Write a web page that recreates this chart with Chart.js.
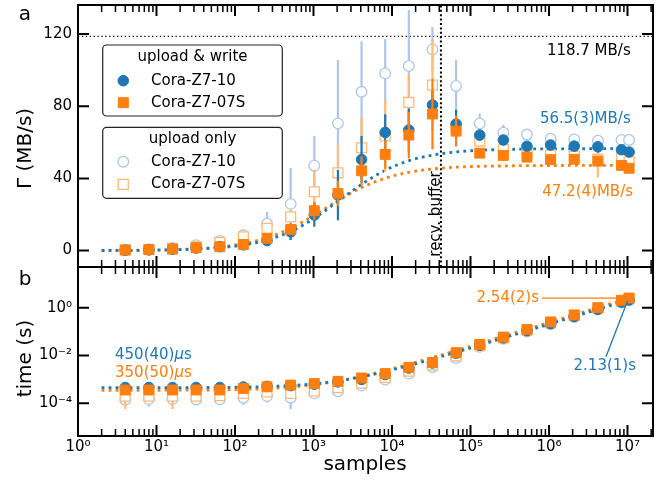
<!DOCTYPE html>
<html>
<head>
<meta charset="utf-8">
<script src="https://cdn.jsdelivr.net/npm/chart.js@4/dist/chart.umd.min.js"></script>
<style>
  html, body { margin: 0; padding: 0; background: #fff; }
  #wrap { position: relative; width: 672px; height: 483px; }
  canvas { position: absolute; left: 0; }
  #rateChart { top: 0; }
  #timeChart { top: 266px; }
</style>
</head>
<body>
<div id="wrap">
  <canvas id="rateChart" width="672" height="268"></canvas>
  <canvas id="timeChart" width="672" height="217"></canvas>
</div>
<script>
// Throughput / transfer time vs number of samples
const c = {
  blue: '#1f77b4',
  orange: '#ff7f0e',
  lblue: '#aec7e8',
  lorange: '#ffbb78'
};
const FONT = "'DejaVu Sans'";
Chart.defaults.font.family = FONT;
Chart.defaults.font.size = 15;
Chart.defaults.color = '#000';

// sample counts of the measurements
const samples = [4, 8, 16, 32, 64, 128, 256, 512, 1024, 2048, 4096, 8192, 16384, 32768,
  65536, 131072, 262144, 524288, 1048576, 2097152, 4194304, 8388608, 10485760];

// panel a: rate (MB/s)
const rateWriteZ10 = [0.2, 0.4, 0.8, 1.4, 2.2, 3.2, 5.6, 10.4, 19.7, 30.8, 50.5, 65.5, 66.8, 80.7, 70.1, 64.0, 61.3, 57.8, 58.5, 57.9, 57.5, 55.9, 54.6];
const errWriteZ10 = [0.1, 0.1, 0.2, 0.3, 0.4, 0.6, 1.0, 4.6, 6.5, 14, 13, 10, 12, 8, 8, 3, 2, 1.5, 1, 1, 1, 1, 1];
const rateWrite07S = [0.3, 0.5, 0.9, 1.6, 2.1, 3.4, 6.8, 11.7, 22.1, 31.7, 44.2, 53.3, 64.0, 75.7, 66.2, 54.0, 52.7, 51.8, 50.4, 50.6, 49.6, 47.2, 45.6];
const errWrite07S = [0.1, 0.1, 0.2, 0.3, 0.4, 0.6, 1.2, 3, 5, 7, 8, 8, 13, 19.5, 8.5, 2, 1.5, 1.5, 1.5, 1.5, 2, 1.5, 1.5];
const rateOnlyZ10 = [0.5, 0.8, 1.4, 3.0, 5.3, 8.5, 14.9, 25.9, 47.0, 70.5, 88.0, 98.2, 102.3, 111.5, 91.2, 70.5, 65.3, 64.3, 62.0, 61.6, 60.9, 61.3, 61.3];
const errOnlyZ10 = [0.3, 0.4, 0.5, 0.8, 1.2, 3.5, 6.6, 19.8, 16.5, 35, 28, 19, 31, 12.4, 14.4, 5.5, 4.4, 1.5, 1.5, 1.5, 1.5, 1.5, 1.5];
const rateOnly07S = [0.4, 0.6, 1.0, 2.0, 4.5, 7.6, 12.3, 18.7, 32.6, 43.1, 57.0, 63.5, 82.1, 91.7, 68.0, 60.7, 56.3, 54.0, 53.0, 52.3, 50.5, 51.3, 49.5];
const errOnly07S = [0.2, 0.3, 0.4, 0.6, 1.0, 1.5, 2.5, 4, 12, 16, 17, 20, 15, 25, 6, 3, 2.5, 2, 2, 2, 10, 2, 2];

// panel b: time (s)
const timeWriteZ10 = [4.6e-4, 4.6e-4, 4.6e-4, 4.6e-4, 4.6e-4, 4.8e-4, 5.1e-4, 5.5e-4, 6.3e-4, 7.9e-4, 1.0e-3, 1.6e-3, 3.0e-3, 4.9e-3, 0.0125, 0.027, 0.055, 0.110, 0.215, 0.43, 0.86, 1.72, 2.13];
const timeWrite07S = [3.6e-4, 3.6e-4, 3.6e-4, 3.6e-4, 3.6e-4, 4.2e-4, 4.9e-4, 5.8e-4, 6.7e-4, 8.3e-4, 1.15e-3, 1.75e-3, 3.2e-3, 5.1e-3, 0.0131, 0.029, 0.059, 0.124, 0.255, 0.50, 1.01, 2.05, 2.54];
const timeOnlyZ10 = [1.4e-4, 1.5e-4, 1.5e-4, 1.45e-4, 1.46e-4, 1.7e-4, 2.0e-4, 1.7e-4, 2.6e-4, 3.2e-4, 5.5e-4, 9.8e-4, 1.74e-3, 3.3e-3, 7.8e-3, 0.023, 0.050, 0.100, 0.205, 0.41, 0.83, 1.65, 2.05];
const errTimeOnlyZ10 = [0.2e-4, 0.78e-4, 0.65e-4, 0.2e-4, 0.2e-4, 0.85e-4, 0.93e-4, 1.14e-4, 0.3e-4, 1.4e-4, 0.5e-4, 1.0e-4, 1.5e-4, 3e-4, 6e-4, 1e-3, 2e-3, 3e-3, 5e-3, 0.01, 0.02, 0.03, 0.03];
const timeOnly07S = [2.0e-4, 2.0e-4, 2.0e-4, 2.0e-4, 2.1e-4, 2.6e-4, 3.0e-4, 2.6e-4, 3.3e-4, 4.5e-4, 7.0e-4, 1.2e-3, 2.2e-3, 4.0e-3, 9.5e-3, 0.026, 0.055, 0.112, 0.23, 0.46, 0.95, 1.9, 2.4];
const errTimeOnly07S = [1.44e-4, 0.3e-4, 1.44e-4, 0.3e-4, 0.3e-4, 0.5e-4, 0.6e-4, 0.6e-4, 0.6e-4, 0.8e-4, 1e-4, 1.5e-4, 2e-4, 4e-4, 1e-3, 1e-3, 2e-3, 3e-3, 5e-3, 0.01, 0.02, 0.03, 0.03];

// fit curves
const fitX = [2, 4, 8, 16, 32, 64, 128, 256, 512, 1024, 2048, 4096, 8192, 16384, 32768,
  65536, 131072, 262144, 524288, 1048576, 2097152, 4194304, 8388608, 10485760];
const fitRateZ10 = [0.05, 0.10, 0.20, 0.41, 0.81, 1.59, 3.09, 5.85, 10.6, 17.9, 27.3, 36.7, 44.5, 49.8, 52.9, 54.7, 55.6, 56.0, 56.3, 56.4, 56.4, 56.5, 56.5, 56.5];
const fitRate07S = [0.07, 0.13, 0.26, 0.52, 1.02, 2.0, 3.84, 7.1, 12.4, 19.6, 27.7, 34.9, 40.1, 43.4, 45.2, 46.2, 46.7, 46.9, 47.1, 47.1, 47.2, 47.2, 47.2, 47.2];
const fitTimeZ10 = [4.50e-4, 4.51e-4, 4.52e-4, 4.53e-4, 4.56e-4, 4.63e-4, 4.76e-4, 5.02e-4, 5.54e-4, 6.58e-4, 8.66e-4, 1.28e-3, 2.11e-3, 3.78e-3, 7.10e-3, 0.0137, 0.0271, 0.0537, 0.107, 0.213, 0.426, 0.852, 1.70, 2.13];
const fitTime07S = [3.50e-4, 3.51e-4, 3.52e-4, 3.54e-4, 3.58e-4, 3.65e-4, 3.81e-4, 4.12e-4, 4.74e-4, 5.98e-4, 8.46e-4, 1.34e-3, 2.33e-3, 4.32e-3, 8.28e-3, 0.0162, 0.0321, 0.0638, 0.127, 0.254, 0.508, 1.02, 2.03, 2.54];

// reference values
const linkRate = 118.7;
const recvBuffer = 42000;

// ticks
const xTicks = [1, 10, 100, 1e3, 1e4, 1e5, 1e6, 1e7];
const rateTicks = [0, 40, 80, 120];
const timeTicks = [1e-4, 1e-2, 1];
const X_MIN = 1, X_MAX = 2.113e7;

const xMinor = [];
xTicks.forEach(d => { for (let k = 2; k < 10; k++) if (d * k < X_MAX) xMinor.push(d * k); });

const SUP = { '-': '\u207b', '0': '\u2070', '1': '\u00b9', '2': '\u00b2', '3': '\u00b3', '4': '\u2074', '5': '\u2075', '6': '\u2076', '7': '\u2077', '8': '\u2078', '9': '\u2079' };
const pow10 = v => '10' + String(Math.round(Math.log10(v))).split('').map(ch => SUP[ch]).join('');

// dataset helpers
const pts = ys => samples.map((x, i) => ({ x, y: ys[i] }));
function bars(ys, es) {
  const out = [];
  samples.forEach((x, i) => {
    out.push({ x, y: ys[i] - es[i] }, { x, y: ys[i] + es[i] }, { x, y: null });
  });
  return out;
}
const markers = (ys, style, fill, edge, r, order) => ({
  data: pts(ys), showLine: false, pointStyle: style, pointRadius: r,
  pointBackgroundColor: fill, pointBorderColor: edge, pointBorderWidth: fill === '#fff' ? 1.3 : 1, order
});
const errbars = (ys, es, color, order) => ({
  data: bars(ys, es), borderColor: color, borderWidth: 2.2, pointRadius: 0, spanGaps: false, order
});
const fit = (ys, color) => ({
  data: fitX.map((x, i) => ({ x, y: ys[i] })), borderColor: color, borderWidth: 2.8,
  borderDash: [2.8, 4.2], pointRadius: 0, cubicInterpolationMode: 'monotone', order: 10
});

// drawing helpers
function txt(ctx, s, x, y, o = {}) {
  ctx.save();
  ctx.translate(x, y);
  ctx.rotate(o.rot || 0);
  ctx.fillStyle = o.color || '#000';
  ctx.font = (o.italic ? 'italic ' : '') + (o.size || 15) + 'px ' + FONT;
  ctx.textAlign = o.align || 'left';
  ctx.textBaseline = o.base || 'alphabetic';
  ctx.fillText(s, 0, 0);
  ctx.restore();
}
// "450(40)μs" with an italic mu, left aligned
function microText(ctx, num, x, y, color) {
  ctx.save();
  ctx.font = '15px ' + FONT;
  const w1 = ctx.measureText(num).width;
  ctx.font = 'italic 15px ' + FONT;
  const w2 = ctx.measureText('\u03bc').width;
  ctx.restore();
  txt(ctx, num, x, y, { color });
  txt(ctx, '\u03bc', x + w1, y, { color, italic: true });
  txt(ctx, 's', x + w1 + w2, y, { color });
}
function frame(chart, ctx, yMajor) {
  const a = chart.chartArea, sx = chart.scales.x, sy = chart.scales.y;
  ctx.strokeStyle = '#000';
  const xt = (v, len, lw) => {
    const p = sx.getPixelForValue(v);
    if (p < a.left + 1 || p > a.right - 1) return;
    ctx.lineWidth = lw;
    ctx.beginPath();
    ctx.moveTo(p, a.top); ctx.lineTo(p, a.top + len);
    ctx.moveTo(p, a.bottom); ctx.lineTo(p, a.bottom - len);
    ctx.stroke();
  };
  xMinor.forEach(v => xt(v, 7, 1.5));
  xTicks.forEach(v => xt(v, 11, 2));
  yMajor.forEach(v => {
    const p = sy.getPixelForValue(v);
    ctx.lineWidth = 2;
    ctx.beginPath();
    ctx.moveTo(a.left, p); ctx.lineTo(a.left + 11, p);
    ctx.moveTo(a.right, p); ctx.lineTo(a.right - 11, p);
    ctx.stroke();
  });
  ctx.lineWidth = 2;
  ctx.strokeRect(a.left, a.top, a.right - a.left, a.bottom - a.top);
}
function legendBox(ctx, box, title, rows) {
  ctx.save();
  ctx.beginPath();
  ctx.roundRect(box[0], box[1], box[2] - box[0], box[3] - box[1], 4);
  ctx.fillStyle = '#fff';
  ctx.fill();
  ctx.lineWidth = 1.2;
  ctx.strokeStyle = '#222';
  ctx.stroke();
  txt(ctx, title, (box[0] + box[2]) / 2, box[1] + 12, { align: 'center', base: 'middle' });
  rows.forEach(r => {
    ctx.beginPath();
    if (r.shape === 'circle') ctx.arc(123.3, r.y, 5.3, 0, Math.PI * 2);
    else ctx.rect(123.3 - 5, r.y - 5, 10, 10);
    ctx.fillStyle = r.fill;
    ctx.fill();
    ctx.lineWidth = r.fill === '#fff' ? 1.3 : 1;
    ctx.strokeStyle = r.edge;
    ctx.stroke();
    txt(ctx, r.label, 151, r.y, { base: 'middle' });
  });
  ctx.restore();
}

const deco = draw => ({
  id: 'deco',
  afterDatasetsDraw(chart) {
    const ctx = chart.ctx;
    ctx.save();
    draw(chart, ctx);
    ctx.restore();
  }
});

// no label overhang padding, so the plot frame sits exactly where asked
const noPad = s => { s.paddingTop = 0; s.paddingBottom = 0; s.paddingLeft = 0; s.paddingRight = 0; };

const baseScales = (yOpts, xOpts) => ({
  x: Object.assign({ type: 'logarithmic', min: X_MIN, max: X_MAX }, xOpts),
  y: Object.assign({
    afterFit: s => { s.width = 78; noPad(s); },
    grid: { display: false, drawTicks: false },
    border: { display: false },
    ticks: { padding: 6, color: '#000', autoSkip: false }
  }, yOpts)
});

// Panel a - transfer rate
new Chart(document.getElementById('rateChart'), {
  type: 'line',
  data: {
    datasets: [
      markers(rateWrite07S, 'rect', c.orange, c.orange, 7, 1),
      errbars(rateWrite07S, errWrite07S, c.orange, 2),
      markers(rateWriteZ10, 'circle', c.blue, c.blue, 5.3, 3),
      errbars(rateWriteZ10, errWriteZ10, c.blue, 4),
      markers(rateOnly07S, 'rect', '#fff', c.lorange, 7, 5),
      errbars(rateOnly07S, errOnly07S, c.lorange, 6),
      markers(rateOnlyZ10, 'circle', '#fff', c.lblue, 5.3, 7),
      errbars(rateOnlyZ10, errOnlyZ10, c.lblue, 8),
      fit(fitRateZ10, c.blue),
      fit(fitRate07S, c.orange),
      { data: [{ x: X_MIN, y: linkRate }, { x: X_MAX, y: linkRate }], borderColor: '#000',
        borderWidth: 1.3, borderDash: [1.3, 2.6], pointRadius: 0, order: 12 },
      { data: [{ x: recvBuffer, y: -9.1 }, { x: recvBuffer, y: 136.1 }], borderColor: '#000',
        borderWidth: 2, borderDash: [2, 2.4], pointRadius: 0, order: 12 }
    ]
  },
  options: {
    responsive: false,
    animation: false,
    events: [],
    layout: { autoPadding: false, padding: { top: 5, right: 19, bottom: 1, left: 0 } },
    plugins: { legend: { display: false }, tooltip: { enabled: false } },
    scales: baseScales({
      min: -9.1, max: 136.1,
      afterBuildTicks: s => { s.ticks = rateTicks.map(v => ({ value: v })); }
    }, { display: false, afterFit: noPad })
  },
  plugins: [deco((chart, ctx) => {
    frame(chart, ctx, rateTicks);
    txt(ctx, 'a', 25, 20, { size: 20, align: 'center' });
    txt(ctx, '\u0393 (MB/s)', 30.7, 148.5, { size: 20, align: 'center', rot: -Math.PI / 2 });
    txt(ctx, '118.7 MB/s', 630.7, 55, { align: 'right' });
    txt(ctx, '56.5(3)MB/s', 630.7, 122.5, { align: 'right', color: c.blue });
    txt(ctx, '47.2(4)MB/s', 633, 196, { align: 'right', color: c.orange });
    txt(ctx, 'recv. buffer', 439.5, 256.7, { rot: -Math.PI / 2 });
    legendBox(ctx, [102.7, 45, 282.3, 116], 'upload & write', [
      { shape: 'circle', fill: c.blue, edge: c.blue, label: 'Cora-Z7-10', y: 80.7 },
      { shape: 'rect', fill: c.orange, edge: c.orange, label: 'Cora-Z7-07S', y: 102.7 }
    ]);
    legendBox(ctx, [102.7, 127.3, 282.3, 198.3], 'upload only', [
      { shape: 'circle', fill: '#fff', edge: c.lblue, label: 'Cora-Z7-10', y: 161.7 },
      { shape: 'rect', fill: '#fff', edge: c.lorange, label: 'Cora-Z7-07S', y: 184.3 }
    ]);
  })]
});

// Panel b - transfer time
new Chart(document.getElementById('timeChart'), {
  type: 'line',
  data: {
    datasets: [
      { data: [{ x: 8.15e5, y: 2.54 }, { x: 10485760, y: 2.54 }], borderColor: c.orange,
        borderWidth: 1.3, pointRadius: 0, order: 0 },
      { data: [{ x: 5.32e6, y: 8.9e-3 }, { x: 1.0e7, y: 1.9 }], borderColor: c.blue,
        borderWidth: 1.3, pointRadius: 0, order: 0 },
      markers(timeWrite07S, 'rect', c.orange, c.orange, 7, 1),
      markers(timeWriteZ10, 'circle', c.blue, c.blue, 5.3, 3),
      markers(timeOnly07S, 'rect', '#fff', c.lorange, 7, 5),
      errbars(timeOnly07S, errTimeOnly07S, c.lorange, 6),
      markers(timeOnlyZ10, 'circle', '#fff', c.lblue, 5.3, 7),
      errbars(timeOnlyZ10, errTimeOnlyZ10, c.lblue, 8),
      fit(fitTimeZ10, c.blue),
      fit(fitTime07S, c.orange)
    ]
  },
  options: {
    responsive: false,
    animation: false,
    events: [],
    layout: { autoPadding: false, padding: { top: 1, right: 19, bottom: 0, left: 0 } },
    plugins: { legend: { display: false }, tooltip: { enabled: false } },
    scales: baseScales({
      type: 'logarithmic', min: 4.29e-6, max: 50.5,
      afterBuildTicks: s => { s.ticks = timeTicks.map(v => ({ value: v })); },
      ticks: { padding: 6, color: '#000', autoSkip: false, callback: v => pow10(v) }
    }, {
      afterFit: s => { s.height = 47; noPad(s); },
      afterBuildTicks: s => { s.ticks = xTicks.map(v => ({ value: v })); },
      grid: { display: false, drawTicks: false },
      border: { display: false },
      ticks: { padding: 2, color: '#000', autoSkip: false, maxRotation: 0, callback: v => pow10(v) }
    })
  },
  plugins: [deco((chart, ctx) => {
    frame(chart, ctx, timeTicks);
    txt(ctx, 'b', 25, 19, { size: 20, align: 'center' });
    txt(ctx, 'time (s)', 30.7, 92.5, { size: 20, align: 'center', rot: -Math.PI / 2 });
    txt(ctx, 'samples', 365, 204, { size: 20, align: 'center' });
    microText(ctx, '450(40)', 115, 93, c.blue);
    microText(ctx, '350(50)', 115, 111, c.orange);
    txt(ctx, '2.54(2)s', 539, 36, { align: 'right', color: c.orange });
    txt(ctx, '2.13(1)s', 636, 103.5, { align: 'right', color: c.blue });
  })]
});
</script>
</body>
</html>
